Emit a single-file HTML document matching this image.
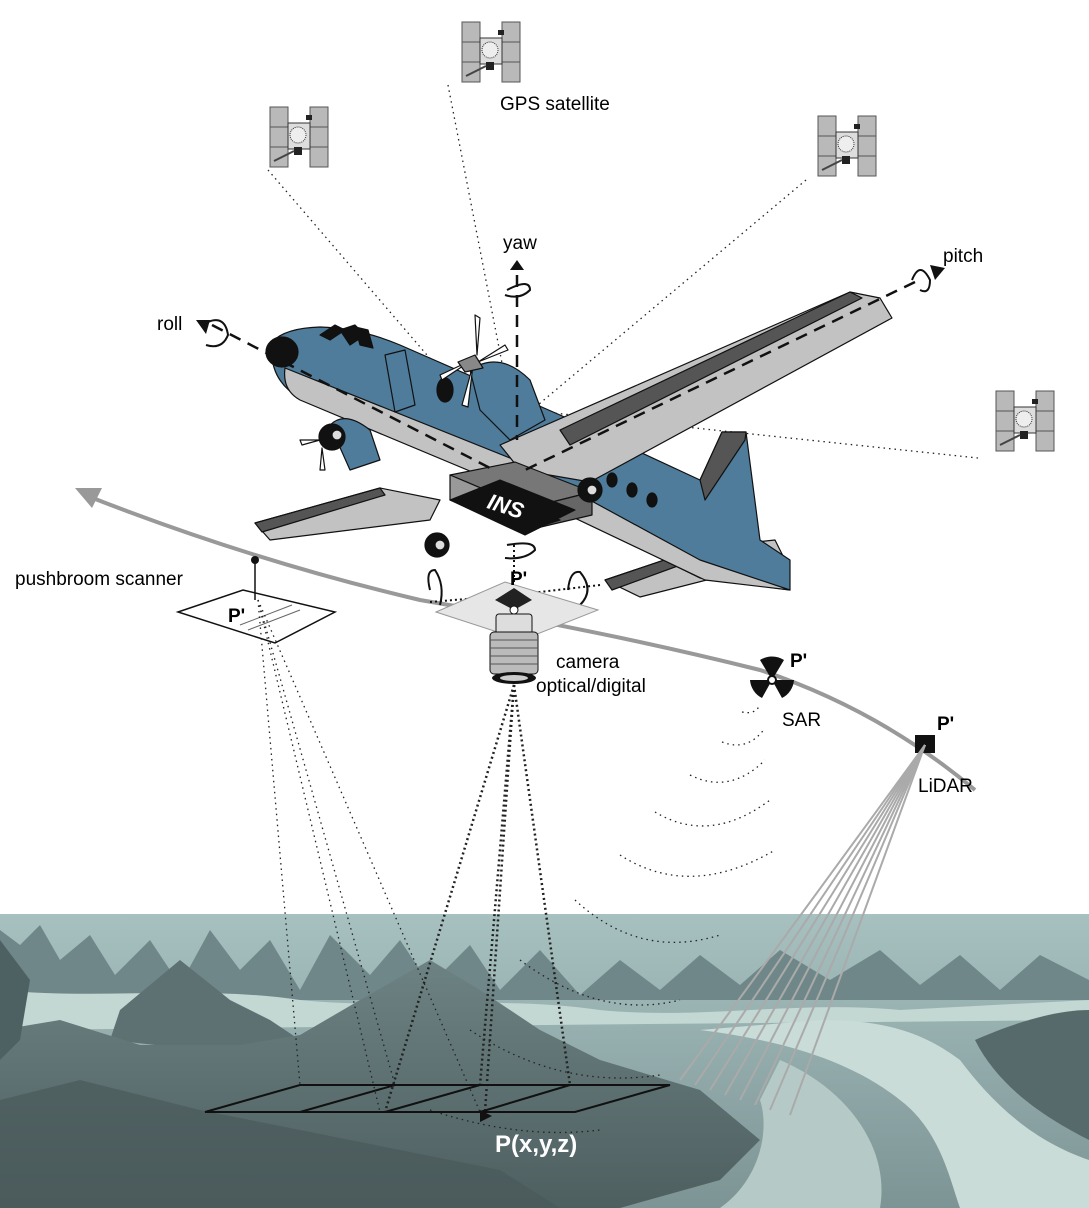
<!DOCTYPE html>
<html><head><meta charset="utf-8"><style>
html,body{margin:0;padding:0;background:#fff}
svg{display:block}
text{font-family:"Liberation Sans",Arial,sans-serif}
</style></head><body>
<svg width="1089" height="1208" viewBox="0 0 1089 1208" xmlns="http://www.w3.org/2000/svg">
<defs>
<linearGradient id="sky" x1="0" y1="0" x2="0" y2="1">
<stop offset="0" stop-color="#a7c0c0"/><stop offset="0.3" stop-color="#9ab3b3"/><stop offset="1" stop-color="#7d9495"/>
</linearGradient>
<linearGradient id="dark" x1="0" y1="0" x2="0" y2="1">
<stop offset="0" stop-color="#6d8283"/><stop offset="1" stop-color="#4e5f60"/>
</linearGradient>
<g id="sat">
<rect x="-28" y="-30" width="18" height="60" fill="#b9b9b9" stroke="#555" stroke-width="1"/>
<line x1="-28" y1="-10" x2="-10" y2="-10" stroke="#555"/><line x1="-28" y1="10" x2="-10" y2="10" stroke="#555"/>
<rect x="12" y="-30" width="18" height="60" fill="#b9b9b9" stroke="#555" stroke-width="1"/>
<line x1="12" y1="-10" x2="30" y2="-10" stroke="#555"/><line x1="12" y1="10" x2="30" y2="10" stroke="#555"/>
<rect x="-10" y="-14" width="22" height="26" fill="#ddd" stroke="#333"/>
<circle cx="0" cy="-2" r="8" fill="#eee" stroke="#333" stroke-dasharray="1 1"/>
<rect x="-4" y="10" width="8" height="8" fill="#222"/>
<line x1="-4" y1="14" x2="-24" y2="24" stroke="#444" stroke-width="2"/>
<rect x="8" y="-22" width="6" height="5" fill="#222"/>
</g>
</defs>

<!-- landscape -->
<rect x="0" y="914" width="1089" height="294" fill="url(#sky)"/>
<path d="M0 930 L20 945 L40 925 L60 960 L90 935 L115 975 L150 940 L180 985 L210 930 L240 970 L270 940 L300 990 L330 935 L370 975 L400 940 L430 985 L470 945 L500 990 L540 950 L580 995 L620 960 L660 990 L700 955 L740 985 L780 950 L830 980 L880 950 L920 985 L960 955 L1000 990 L1040 955 L1089 980 L1089 1000 L0 1000Z" fill="#6f8788"/>
<path d="M0 990 C100 1000 200 985 300 1000 C400 1010 500 995 600 1010 C700 1020 800 1000 900 1010 L1089 1000 L1089 1020 L0 1030Z" fill="#c3d7d3"/>
<path d="M120 1010 L180 960 L230 1000 L270 1020 L300 1040 L200 1050 L110 1040Z" fill="#5d7172"/>
<path d="M0 1030 L60 1020 L140 1045 L240 1045 L300 1035 L360 1000 L430 960 L480 990 L540 1030 L600 1060 L700 1090 L760 1140 L720 1180 L620 1208 L0 1208Z" fill="url(#dark)"/>
<path d="M0 1100 L80 1080 L200 1110 L300 1130 L400 1150 L500 1170 L560 1208 L0 1208Z" fill="#4a5a5b" opacity="0.7"/>
<path d="M700 1030 C780 1040 850 1060 900 1100 C940 1130 950 1180 960 1208 L1089 1208 L1089 1160 C1030 1140 990 1100 960 1060 C920 1030 880 1020 820 1020Z" fill="#c9dcd8"/>
<path d="M780 1060 C850 1090 890 1150 880 1208 L720 1208 C760 1180 770 1130 760 1100Z" fill="#b5cac6"/>
<path d="M975 1040 C1020 1020 1060 1010 1089 1010 L1089 1140 C1050 1120 1000 1090 975 1040Z" fill="#566a6b"/>
<path d="M0 940 L0 1060 L20 1040 L30 980Z" fill="#4e6162"/>

<!-- satellites -->
<use href="#sat" transform="translate(298,137)"/>
<use href="#sat" transform="translate(490,52)"/>
<use href="#sat" transform="translate(846,146)"/>
<use href="#sat" transform="translate(1024,421)"/>
<text x="500" y="110" font-size="19">GPS satellite</text>

<!-- satellite dotted lines -->
<g stroke="#222" stroke-width="1.3" stroke-dasharray="1.5 4" fill="none">
<line x1="268" y1="170" x2="500" y2="440"/>
<line x1="448" y1="85" x2="515" y2="430"/>
<line x1="806" y1="180" x2="520" y2="420"/>
<line x1="978" y1="458" x2="525" y2="410"/>
</g>

<!-- trajectory -->
<path d="M85 495 Q250 560 420 600 Q600 630 760 670 Q880 710 975 790" fill="none" stroke="#999" stroke-width="4"/>
<path d="M75 488 L102 488 L92 508Z" fill="#999"/>

<!-- airplane -->
<g stroke="#111" stroke-width="1.2" stroke-linejoin="round">
<path d="M255 523 L380 488 L440 500 L430 520 L270 540Z" fill="#c2c2c2"/>
<path d="M255 523 L380 488 L385 495 L262 532Z" fill="#555"/>
<path d="M605 580 L700 548 L775 540 L785 560 L640 597Z" fill="#c2c2c2"/>
<path d="M605 580 L700 548 L705 556 L612 590Z" fill="#555"/>
<path d="M272 342 Q285 328 320 327 Q360 328 400 345 L560 415 L700 480 L722 432 L746 432 L760 540 L790 560 L790 590 L700 578 L520 490 L300 398 Q268 380 272 342Z" fill="#4f7c9b"/>
<path d="M285 368 L520 462 L700 560 L790 590 L705 580 L520 492 L300 400 Q282 390 285 368Z" fill="#c2c2c2"/>
<path d="M700 480 L722 432 L746 432 L745 440 L705 500Z" fill="#555"/>
<ellipse cx="282" cy="352" rx="16" ry="15" fill="#111"/>
<path d="M320 335 L335 325 L345 330 L330 340Z" fill="#111"/>
<path d="M340 330 L355 325 L365 335 L350 345Z" fill="#111"/>
<path d="M355 327 L368 330 L373 348 L360 345Z" fill="#111"/>
<path d="M385 355 L405 350 L415 405 L395 412Z" fill="none"/>
<ellipse cx="445" cy="390" rx="8" ry="12" fill="#111"/>
<ellipse cx="612" cy="480" rx="5" ry="7" fill="#111"/>
<ellipse cx="632" cy="490" rx="5" ry="7" fill="#111"/>
<ellipse cx="652" cy="500" rx="5" ry="7" fill="#111"/>
<path d="M500 445 L850 292 L880 298 L892 318 L590 482 L520 470Z" fill="#c2c2c2"/>
<path d="M560 430 L850 292 L862 298 L570 445Z" fill="#555"/>
<path d="M470 370 Q500 350 530 380 L545 420 L510 440 L480 410Z" fill="#4f7c9b"/>
<path d="M330 425 Q345 410 370 430 L380 460 L350 470Z" fill="#4f7c9b"/>
<path d="M450 475 L515 462 L592 492 L528 508Z" fill="#777"/>
<path d="M450 475 L450 500 L528 530 L528 508Z" fill="#999"/>
<path d="M528 508 L592 492 L592 515 L528 530Z" fill="#666"/>
<path d="M450 500 L528 530 L560 520 L470 495Z" fill="#111"/>
<path d="M450 500 L525 535 L575 510 L500 480Z" fill="#111"/>
<circle cx="437" cy="545" r="12" fill="#111"/><circle cx="440" cy="545" r="5" fill="#ddd"/>
<circle cx="590" cy="490" r="12" fill="#111"/><circle cx="592" cy="490" r="5" fill="#ddd"/>
<circle cx="332" cy="437" r="13" fill="#111"/><circle cx="337" cy="435" r="5" fill="#ddd"/>
<g fill="#fff">
<path d="M477 355 L475 315 L480 318Z"/><path d="M478 362 L505 345 L508 350Z"/><path d="M473 365 L462 405 L468 407Z"/><path d="M472 360 L440 375 L442 380Z"/>
<path d="M320 440 L300 440 L302 445Z"/><path d="M322 448 L320 470 L325 470Z"/>
</g>
<path d="M458 362 L475 355 L483 368 L465 372Z" fill="#888"/>
</g>
<text x="488" y="515" font-size="22" font-weight="bold" fill="#fff" font-style="italic" transform="rotate(18 510 505)">INS</text>

<!-- axes -->
<g stroke="#111" stroke-width="2.5" stroke-dasharray="12 8" fill="none">
<line x1="212" y1="325" x2="490" y2="468"/>
<line x1="915" y1="282" x2="525" y2="470"/>
<line x1="517" y1="275" x2="517" y2="440"/>
</g>
<g fill="none" stroke="#111" stroke-width="2">
<path d="M208 322 Q225 315 228 335 Q222 350 206 345"/>
<path d="M507 290 Q530 278 530 290 Q520 300 505 295"/>
<path d="M912 280 Q920 260 930 280 Q930 295 920 290"/>
</g>
<path d="M196 320 L210 320 L206 334Z" fill="#111"/>
<path d="M510 270 L524 270 L517 260Z" fill="#111"/>
<path d="M930 265 L945 268 L935 280Z" fill="#111"/>
<text x="157" y="330" font-size="19">roll</text>
<text x="503" y="249" font-size="19">yaw</text>
<text x="943" y="262" font-size="19">pitch</text>

<!-- camera axes -->
<g stroke="#111" stroke-width="2" stroke-dasharray="2 3" fill="none">
<line x1="514" y1="545" x2="514" y2="595"/>
<line x1="430" y1="602" x2="514" y2="595"/>
<line x1="600" y1="585" x2="514" y2="595"/>
</g>
<g fill="none" stroke="#111" stroke-width="2">
<path d="M507 545 Q535 540 535 550 Q525 560 505 558"/>
<path d="M430 590 Q425 570 435 570 Q445 585 440 605"/>
<path d="M568 590 Q570 570 580 572 Q595 590 580 605"/>
</g>
<path d="M436 612 L505 582 L598 610 L522 640Z" fill="#e6e6e6" stroke="#999"/>
<path d="M495 600 L514 588 L532 600 L514 610Z" fill="#222"/>
<circle cx="514" cy="610" r="4" fill="#fff" stroke="#111"/>
<text x="510" y="585" font-size="19" font-weight="bold">P'</text>
<rect x="496" y="614" width="36" height="20" rx="3" fill="#ddd" stroke="#111"/>
<rect x="490" y="632" width="48" height="42" rx="4" fill="#bbb" stroke="#111"/>
<g stroke="#555" stroke-width="1">
<line x1="490" y1="640" x2="538" y2="640"/><line x1="490" y1="648" x2="538" y2="648"/><line x1="490" y1="656" x2="538" y2="656"/><line x1="490" y1="664" x2="538" y2="664"/>
</g>
<ellipse cx="514" cy="678" rx="22" ry="6" fill="#111"/>
<ellipse cx="514" cy="678" rx="14" ry="3" fill="#ccc"/>
<text x="556" y="668" font-size="19">camera</text>
<text x="536" y="692" font-size="19">optical/digital</text>

<!-- pushbroom -->
<path d="M178 612 L243 590 L335 612 L275 643Z" fill="#fff" stroke="#111" stroke-width="1.5"/>
<line x1="248" y1="630" x2="300" y2="610" stroke="#666"/>
<line x1="240" y1="625" x2="292" y2="605" stroke="#666"/>
<line x1="255" y1="560" x2="255" y2="600" stroke="#111" stroke-width="1.5"/>
<circle cx="255" cy="560" r="4" fill="#111"/>
<text x="15" y="585" font-size="19">pushbroom scanner</text>
<text x="228" y="622" font-size="19" font-weight="bold">P'</text>

<!-- dotted rays -->
<g stroke="#222" stroke-width="1.3" stroke-dasharray="1.5 4" fill="none">
<line x1="258" y1="600" x2="380" y2="1112"/>
<line x1="258" y1="600" x2="480" y2="1112"/>
<line x1="258" y1="600" x2="300" y2="1085"/>
<line x1="258" y1="600" x2="395" y2="1085"/>
</g>
<g stroke="#222" stroke-width="2.5" stroke-dasharray="2 3" fill="none">
<line x1="514" y1="685" x2="385" y2="1112"/>
<line x1="514" y1="685" x2="480" y2="1085"/>
<line x1="514" y1="685" x2="570" y2="1085"/>
<line x1="514" y1="685" x2="485" y2="1112"/>
</g>
<g transform="translate(772,680)">
<circle r="5" fill="#111"/>
<path d="M0 0 L-12 -20 A22 22 0 0 1 12 -20Z" fill="#111"/>
<path d="M0 0 L22 0 A22 22 0 0 1 10 18Z" fill="#111"/>
<path d="M0 0 L-10 18 A22 22 0 0 1 -22 0Z" fill="#111"/>
<circle r="3" fill="#fff"/>
</g>
<text x="790" y="667" font-size="19" font-weight="bold">P'</text>
<text x="782" y="726" font-size="19">SAR</text>
<g stroke="#222" stroke-width="1.3" stroke-dasharray="1.5 4" fill="none">
<path d="M742 712 Q755 715 760 705"/>
<path d="M722 742 Q748 752 765 728"/>
<path d="M690 775 Q730 795 765 760"/>
<path d="M655 812 Q710 845 770 800"/>
<path d="M620 855 Q690 900 775 850"/>
<path d="M575 900 Q640 960 720 935"/>
<path d="M520 960 Q600 1020 680 1000"/>
<path d="M470 1030 Q560 1090 660 1075"/>
<path d="M430 1110 Q520 1140 600 1130"/>
</g>
<rect x="915" y="735" width="20" height="18" fill="#111"/>
<text x="937" y="730" font-size="19" font-weight="bold">P'</text>
<text x="918" y="792" font-size="19">LiDAR</text>
<g stroke="#aaa" stroke-width="2">
<line x1="925" y1="745" x2="680" y2="1080"/>
<line x1="925" y1="745" x2="695" y2="1085"/>
<line x1="925" y1="745" x2="710" y2="1090"/>
<line x1="925" y1="745" x2="725" y2="1095"/>
<line x1="925" y1="745" x2="740" y2="1100"/>
<line x1="925" y1="745" x2="755" y2="1105"/>
<line x1="925" y1="745" x2="770" y2="1110"/>
<line x1="925" y1="745" x2="790" y2="1115"/>
</g>

<g stroke="#111" stroke-width="2" fill="none">
<path d="M205 1112 L300 1085 L670 1085 L575 1112Z"/>
<line x1="300" y1="1112" x2="395" y2="1085"/>
<line x1="385" y1="1112" x2="480" y2="1085"/>
<line x1="480" y1="1112" x2="570" y2="1085"/>
</g>
<path d="M480 1110 L492 1116 L480 1122Z" fill="#111"/>
<text x="495" y="1152" font-size="24" font-weight="bold" fill="#fff">P(x,y,z)</text>
</svg>
</body></html>
